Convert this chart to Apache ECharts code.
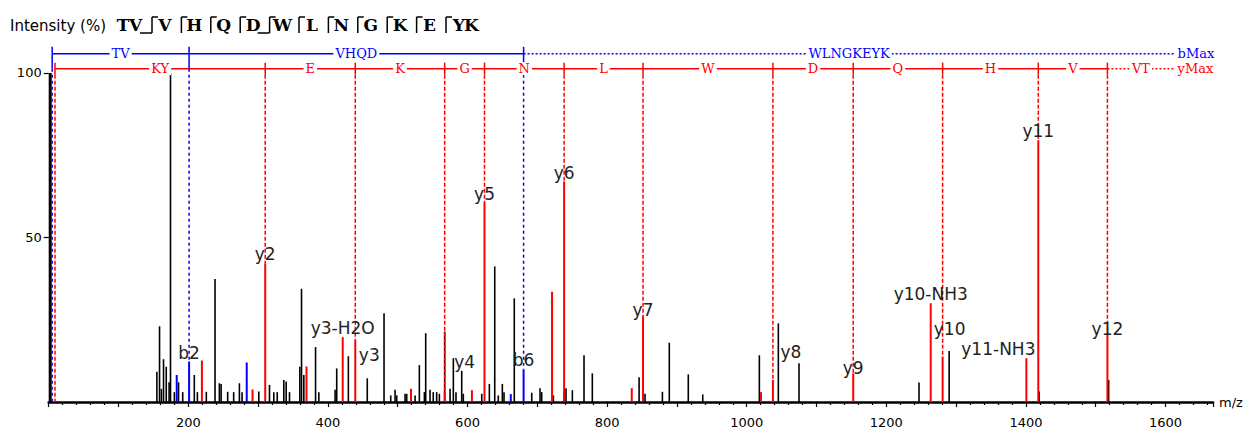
<!DOCTYPE html>
<html><head><meta charset="utf-8">
<script src="https://cdn.jsdelivr.net/npm/echarts@6/dist/echarts.min.js"></script>
<style>html,body{margin:0;padding:0;background:#fff}#c{width:1251px;height:430px}</style>
</head><body><div id="c"></div><script>
// ---------------- DATA ----------------
const sequence = ['T','V','V','H','Q','D','W','L','N','G','K','E','Y','K'];
const xTickLabels = [200, 400, 600, 800, 1000, 1200, 1400, 1600];
const yTickLabels = [50, 100];
// unmatched (black) peaks [m/z, intensity %]
const blackPeaks = [
 [155,9.2],[158.8,23],[161.5,4],[164.5,13],[168.4,10.7],[172.5,6],[174.5,100],[180,3],[186,6],[192,3],
 [208.6,8.2],[213,3],[225.8,3.1],[238.3,37.4],[244.5,5.7],[247,5.5],[256.4,3.1],[265,3],[273.2,5.7],[277,3],
 [301,3.2],[316.3,5.2],[322.5,3],[327.4,3],[336.8,6.7],[340.2,6.2],[345,3],[359.8,10.7],[362.2,34.4],[365.5,8.2],
 [382.3,16.7],[387,3],[410.3,3.7],[412.6,10.2],[429.3,13.9],[456.4,7.2],[480.4,27],[490,2],[496.2,3.7],[498.6,2],
 [510.5,2.5],[512.9,2.5],[524.9,2],[531,11.2],[538.2,3],[540.1,20.9],[546.3,3.7],[550.9,3],[555.8,3],[559.7,2.5],
 [567.3,21.4],[575,4],[579.7,13.3],[583.5,3],[591.7,9.5],[594,2.5],[620.4,2.5],[631.3,5.5],[639,41.2],[644.1,2],
 [649.9,5.5],[652.3,3],[667,31.5],[692,2.8],[703.9,4.2],[706.3,3],[723,2],[738.3,3],[741.1,4.2],[750.2,3.6],
 [766.9,14.2],[778.8,8.7],[845.8,7.5],[854.3,2.5],[879.2,3.1],[889.1,18],[916.3,8.4],[937,2.3],[1018.1,14.2],
 [1045.3,23.9],[1074.9,11.8],[1246.8,5.9],[1290,15.5],[1419,3.2],[1518.5,6.7]
];
// matched, labelled ions
const ionNames = ['b2','y2','y3-H2O','y3','y4','y5','b6','y6','y7','y8','y9','y10-NH3','y10','y11-NH3','y11','y12'];
const ionMz    = [201.12,310.18,421.21,439.22,567.31,624.34,680.34,738.38,851.46,1037.54,1152.57,1263.6,1280.63,1400.66,1417.69,1516.75];
const ionInt   = [12.3,42.1,19.7,19,3,60.5,9.9,67,26.1,6.7,8.7,30,13.8,13.3,79.5,21];
// matched, unlabelled ions
const otherYPeaks = [[219.5,12.6],[292,3.8],[369.3,10.8],[519,4],[606.3,3.6],[721.1,33.5],[835.3,4.2],[1020.5,3]];
const otherBPeaks = [[183.4,8.2],[283.7,12],[662,2.4]];
// fragment ladders
const bLadderStart = 5;
const bLadderIons = ['b2','b6'];
const bLadderLabels = ['TV','VHQD','WLNGKEYK'];
const yLadderStart = 9;
const yLadderIons = ['y2','y3','y4','y5','y6','y7','y8','y9','y10','y11','y12'];
const yLadderLabels = ['KY','E','K','G','N','L','W','D','Q','H','V','VT'];
const ladderEndMz = 1613;

// ---------------- STYLE / LAYOUT ----------------
const RED = '#ff0000', BLUE = '#0000ff', BLACK = '#000';
const X_MAX = 1668, Y_MAX = 110;
const B_LEVEL = 105.8, Y_LEVEL = 101.3;
const SERIF = 'DejaVu Serif';
const SANS = 'DejaVu Sans';
const labelShift = {'y3':[14,25],'y4':[20,-21.5],'y7':[0,3],'y8':[18,-18.5],'y9':[0,3.5],'y10':[7,-19],'y11-NH3':[-28,0],'y12':[0,5.5]};

const ionIndex = n => ionNames.indexOf(n);
const isB = n => n[0] === 'b';

const chart = echarts.init(document.getElementById('c'), null, {renderer:'svg'});

function stickSeries(name, data, color, width, z){
  return {
    type:'custom', name, data, z: z || 2,
    renderItem(params, api){
      const p0 = api.coord([api.value(0), 0]);
      const p1 = api.coord([api.value(0), api.value(1)]);
      return {type:'line', shape:{x1:p0[0], y1:p0[1], x2:p1[0], y2:p1[1]}, style:{stroke:color, lineWidth:width}};
    }
  };
}

function ladderText(x, y, t, color, align){
  return {type:'text', z2:5, x, y, style:{text:t, fill:color, fontFamily:SERIF, fontSize:13, lineHeight:13,
    align:align, verticalAlign:'middle', backgroundColor:'#fff', padding:[0,2]}};
}

function ladderGroup(api, startMz, ions, labels, level, color, above, below, dash, maxText){
  const ch = [];
  const yPix = api.coord([0, level])[1];
  const pts = [startMz].concat(ions.map(n => ionMz[ionIndex(n)]));
  const tops = [0].concat(ions.map(n => ionInt[ionIndex(n)]));
  const xs = pts.map(m => api.coord([m, 0])[0]);
  const endX = api.coord([ladderEndMz, 0])[0];
  ch.push({type:'line', shape:{x1:xs[0], y1:yPix, x2:xs[xs.length-1], y2:yPix}, style:{stroke:color, lineWidth:1.5}});
  ch.push({type:'line', shape:{x1:xs[xs.length-1], y1:yPix, x2:endX, y2:yPix}, style:{stroke:color, lineWidth:1.5, lineDash:[2,2]}});
  xs.forEach((x, i) => {
    const topPix = api.coord([pts[i], tops[i]])[1];
    ch.push({type:'line', shape:{x1:x, y1:yPix-above, x2:x, y2:yPix+below}, style:{stroke:color, lineWidth:1.5}});
    ch.push({type:'line', shape:{x1:x, y1:yPix+below, x2:x, y2:topPix}, style:{stroke:color, lineWidth:1.5, lineDash:dash}});
  });
  labels.forEach((t, i) => {
    const xa = xs[i], xb = (i+1 < xs.length) ? xs[i+1] : endX;
    ch.push(ladderText((xa+xb)/2, yPix, t, color, 'center'));
  });
  ch.push(ladderText(endX+1, yPix, maxText, color, 'left'));
  return ch;
}

// header (sequence with fragment marks)
const header = [];
header.push({type:'text', left:10, top:18, style:{text:'Intensity (%)', fontFamily:SANS, fontSize:15, fill:'#000'}});
(function(){
  let x = 123;
  const bSet = bLadderIons.map(n => parseInt(n.slice(1)));
  const ySet = yLadderIons.map(n => sequence.length - parseInt(n.slice(1)));
  sequence.forEach((aa, i) => {
    header.push({type:'text', x:x, y:25, style:{text:aa, fontFamily:SERIF, fontWeight:'bold', fontSize:17, fill:'#000', align:'center', verticalAlign:'middle'}});
    const k = i + 1;
    const hasB = bSet.includes(k), hasY = ySet.includes(k);
    if (hasB || hasY){
      const xb = x + 16.5;
      header.push({type:'line', shape:{x1:xb, y1:17, x2:xb, y2:33}, style:{stroke:'#000', lineWidth:1.5}});
      if (hasY) header.push({type:'line', shape:{x1:xb, y1:17, x2:xb+6, y2:17}, style:{stroke:'#000', lineWidth:1.5}});
      if (hasB) header.push({type:'line', shape:{x1:xb-12, y1:33, x2:xb, y2:33}, style:{stroke:'#000', lineWidth:1.5}});
      x += 29.4;
    } else {
      x += 12.5;
    }
  });
})();

const ionData = ionMz.map((m,i)=>[m, ionInt[i], i]);

const option = {
  animation:false,
  backgroundColor:'#fff',
  graphic: header,
  grid:{left:48.7, right:38, top:40, bottom:28, containLabel:false},
  xAxis:{
    type:'value', min:0, max:X_MAX, interval:100,
    name:'m/z', nameLocation:'end', nameGap:6,
    nameTextStyle:{color:'#000', fontSize:13, fontFamily:SANS, padding:[8,0,0,0]},
    axisLine:{show:true, onZero:false, lineStyle:{color:BLACK, width:2.5}},
    axisTick:{show:true, length:5, lineStyle:{color:BLACK, width:1.2}},
    minorTick:{show:true, splitNumber:5, length:3, lineStyle:{color:BLACK, width:1.2}},
    axisLabel:{color:'#000', fontSize:13, fontFamily:SANS, margin:14,
      formatter: v => xTickLabels.includes(v) ? String(v) : ''},
    splitLine:{show:false}
  },
  yAxis:{
    type:'value', min:0, max:Y_MAX, interval:50,
    axisLine:{show:false},
    axisTick:{show:true, length:5, customValues:yTickLabels, lineStyle:{color:BLACK, width:1.2}},
    axisLabel:{color:'#000', fontSize:13, fontFamily:SANS, margin:7, customValues:yTickLabels,
      formatter: v => yTickLabels.includes(v) ? String(v) : ''},
    splitLine:{show:false}
  },
  series:[
    // y axis line drawn only from 0 to 100
    {type:'custom', data:[[0,100]], z:1, renderItem(params, api){
      const p0 = api.coord([0,0]), p1 = api.coord([0, api.value(1)]);
      return {type:'line', shape:{x1:p0[0]+1.5, y1:p0[1], x2:p1[0]+1.5, y2:p1[1]}, style:{stroke:BLACK, lineWidth:3}};
    }},
    stickSeries('black', blackPeaks, BLACK, 1.6),
    stickSeries('yOther', otherYPeaks, RED, 2),
    stickSeries('bOther', otherBPeaks, BLUE, 2),
    stickSeries('yIons', ionData.filter(d => !isB(ionNames[d[2]])), RED, 2, 3),
    stickSeries('bIons', ionData.filter(d => isB(ionNames[d[2]])), BLUE, 2, 3),
    // ladders
    {type:'custom', data:[[0,0]], z:4, renderItem(params, api){
      const ch = []
        .concat(ladderGroup(api, yLadderStart, yLadderIons, yLadderLabels, Y_LEVEL, RED, 6, 6, [4,2], 'yMax'))
        .concat(ladderGroup(api, bLadderStart, bLadderIons, bLadderLabels, B_LEVEL, BLUE, 7, 15, [3,3], 'bMax'));
      return {type:'group', children:ch};
    }},
    // ion labels
    {type:'custom', data:ionData, z:6, renderItem(params, api){
      const i = api.value(2);
      const name = ionNames[i];
      const p = api.coord([api.value(0), api.value(1)]);
      const s = labelShift[name] || [0,0];
      return {type:'text', x:p[0]+s[0], y:p[1]-9+s[1], style:{text:name, fontFamily:SANS, fontSize:17, fill:'#222', align:'center', verticalAlign:'middle'}};
    }}
  ]
};
chart.setOption(option);
</script></body></html>
